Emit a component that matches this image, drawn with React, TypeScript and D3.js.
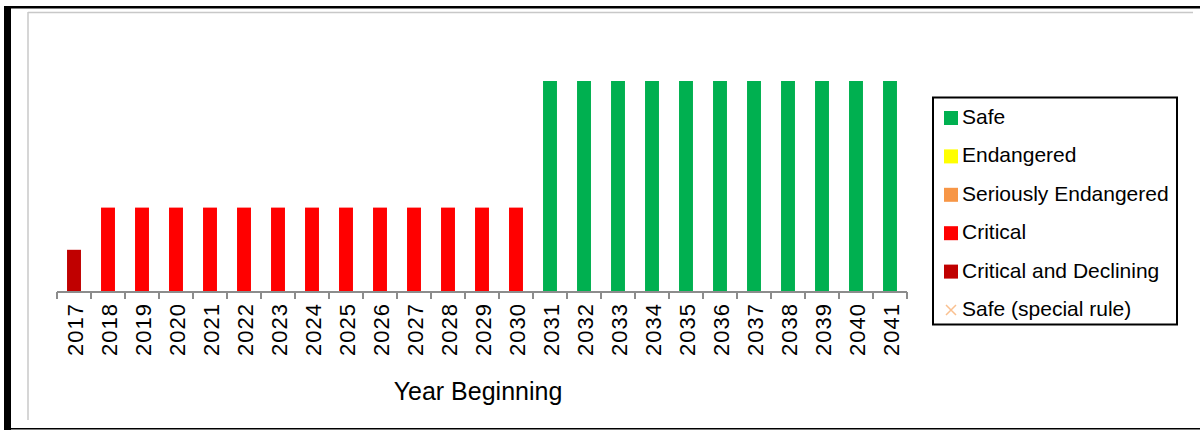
import { useEffect, useRef } from "react";
import * as d3 from "d3";

// status codes: 1 = Critical and Declining, 2 = Critical, 3 = Seriously Endangered, 4 = Endangered, 5 = Safe
const years = [
  "2017", "2018", "2019", "2020", "2021", "2022", "2023", "2024", "2025",
  "2026", "2027", "2028", "2029", "2030", "2031", "2032", "2033", "2034",
  "2035", "2036", "2037", "2038", "2039", "2040", "2041",
];
const statusValues = [
  1, 2, 2, 2, 2, 2, 2, 2, 2, 2, 2, 2, 2, 2, 5, 5, 5, 5, 5, 5, 5, 5, 5, 5, 5,
];
const legendLabels = [
  "Safe",
  "Endangered",
  "Seriously Endangered",
  "Critical",
  "Critical and Declining",
  "Safe (special rule)",
];
const legendColors = ["#00b050", "#ffff00", "#f79646", "#ff0000", "#c00000", "#fac090"];
const statusColor = { 1: "#c00000", 2: "#ff0000", 3: "#f79646", 4: "#ffff00", 5: "#00b050" };

function StatusChart() {
  const ref = useRef(null);

  useEffect(() => {
    const width = 1200;
    const height = 430;
    const root = d3.select(ref.current);
    root.selectAll("*").remove();

    const svg = root
      .append("svg")
      .attr("width", width)
      .attr("height", height)
      .style("position", "absolute")
      .style("left", "0px")
      .style("top", "0px")
      .style("font-family", "'Liberation Sans', Arial, sans-serif");

    svg.append("rect").attr("width", width).attr("height", height).attr("fill", "#fff");

    // outer frame
    svg.append("rect").attr("x", 4).attr("y", 6).attr("width", 7).attr("height", 424).attr("fill", "#000");
    svg.append("rect").attr("x", 4).attr("y", 6).attr("width", 1196).attr("height", 2.5).attr("fill", "#000");
    svg.append("rect").attr("x", 11).attr("y", 428).attr("width", 1189).attr("height", 1.5).attr("fill", "#000");

    // chart area border (grey)
    svg.append("line").attr("x1", 28).attr("x2", 1193).attr("y1", 12.5).attr("y2", 12.5)
      .attr("stroke", "#c8c8c8").attr("stroke-width", 1.5);
    svg.append("line").attr("x1", 28).attr("x2", 28).attr("y1", 12).attr("y2", 420)
      .attr("stroke", "#c8c8c8").attr("stroke-width", 1.5);

    const x = d3.scaleBand().domain(years).range([57, 907]).paddingInner(0.59).paddingOuter(0.295);
    const y = d3.scaleLinear().domain([0, 5]).range([292, 81]);
    const step = x.step();
    const x0 = x.range()[0];

    // bars
    svg
      .append("g")
      .selectAll("rect")
      .data(years)
      .join("rect")
      .attr("x", (d) => x(d))
      .attr("width", x.bandwidth())
      .attr("y", (d, i) => y(statusValues[i]))
      .attr("height", (d, i) => y(0) - y(statusValues[i]))
      .attr("fill", (d, i) => statusColor[statusValues[i]]);

    // x axis line and boundary ticks
    svg.append("line").attr("x1", x0).attr("x2", x.range()[1]).attr("y1", y(0)).attr("y2", y(0))
      .attr("stroke", "#8c8c8c").attr("stroke-width", 2);
    svg
      .append("g")
      .selectAll("line")
      .data(d3.range(years.length + 1))
      .join("line")
      .attr("x1", (i) => x0 + i * step)
      .attr("x2", (i) => x0 + i * step)
      .attr("y1", y(0))
      .attr("y2", y(0) + 7)
      .attr("stroke", "#8c8c8c")
      .attr("stroke-width", 2);

    // tick labels
    svg
      .append("g")
      .selectAll("text")
      .data(years)
      .join("text")
      .attr("transform", (d) => `translate(${x(d) + x.bandwidth() / 2 + 1},${y(0) + 11}) rotate(-90)`)
      .attr("text-anchor", "end")
      .attr("dominant-baseline", "central")
      .attr("font-size", 22)
      .attr("letter-spacing", 1)
      .attr("fill", "#000")
      .text((d) => d);

    // axis title
    svg.append("text")
      .attr("x", 478)
      .attr("y", 400)
      .attr("text-anchor", "middle")
      .attr("font-size", 25)
      .attr("fill", "#000")
      .text("Year Beginning");

    // legend
    const legend = svg.append("g");
    legend.append("rect").attr("x", 933).attr("y", 97.5).attr("width", 244).attr("height", 227)
      .attr("fill", "#fff").attr("stroke", "#000").attr("stroke-width", 2);
    const ly = d3.scalePoint().domain(legendLabels).range([118, 310]);
    const items = legend.selectAll("g").data(legendLabels).join("g");
    items
      .filter((d, i) => i < 5)
      .append("rect")
      .attr("x", 944)
      .attr("y", (d) => ly(d) - 7)
      .attr("width", 14)
      .attr("height", 14)
      .attr("fill", (d, i) => legendColors[i]);
    const special = items.filter((d, i) => i === 5);
    special.append("path")
      .attr("d", (d) => {
        const cx = 951, cy = ly(d), r = 5;
        return `M${cx - r},${cy - r}L${cx + r},${cy + r}M${cx - r},${cy + r}L${cx + r},${cy - r}`;
      })
      .attr("stroke", legendColors[5])
      .attr("stroke-width", 1.5)
      .attr("fill", "none");
    items
      .append("text")
      .attr("x", 962)
      .attr("y", (d) => ly(d) + 6)
      .attr("font-size", 21)
      .attr("fill", "#000")
      .text((d) => d);
  }, []);

  return <div ref={ref}></div>;
}

export default function App() {
  return <StatusChart />;
}
